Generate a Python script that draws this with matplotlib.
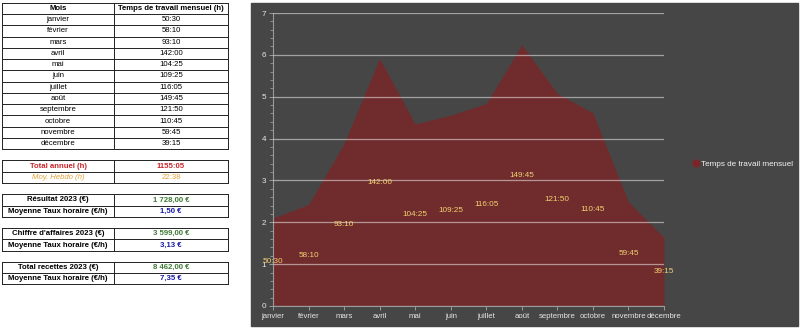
import numpy as np
import matplotlib.pyplot as plt
from matplotlib.patches import Rectangle
from matplotlib.lines import Line2D
from matplotlib.ticker import MultipleLocator

plt.rcParams['font.family'] = ['Liberation Sans', 'DejaVu Sans']

mois = ['janvier', 'février', 'mars', 'avril', 'mai', 'juin', 'juillet',
        'août', 'septembre', 'octobre', 'novembre', 'décembre']
temps = ['50:30', '58:10', '93:10', '142:00', '104:25', '109:25', '116:05',
         '149:45', '121:50', '110:45', '59:45', '39:15']

total_annuel = '1155:05'
moy_hebdo = '22:38'
blocs = [
    ('Résultat 2023 (€)', '1 728,00 €', '1,50 €'),
    ("Chiffre d'affaires 2023 (€)", '3 599,00 €', '3,13 €'),
    ('Total recettes 2023 (€)', '8 462,00 €', '7,35 €'),
]


def en_heures(hhmm):
    h, m = hhmm.split(':')
    return int(h) + int(m) / 60


# durée exprimée en jours sur le graphique
jours = np.array([en_heures(t) for t in temps]) / 24

W, H = 800, 330
fig = plt.figure(figsize=(W / 100, H / 100), dpi=100)

# calque de fond en pixels pour le tableau et le panneau sombre
bg = fig.add_axes([0, 0, 1, 1])
bg.set_xlim(0, W)
bg.set_ylim(H, 0)
bg.axis('off')

bg.add_patch(Rectangle((251, 3), 547, 323, color='#464646', zorder=0))

x0, x1, x2 = 1.7, 114.3, 227.7
top = 2.7
rh = 11.27
fs = 5.6
fs_g = 5.9
c1 = (x0 + x1) / 2
c2 = (x1 + x2) / 2


def cadre(r0, n):
    y_a = top + r0 * rh
    y_b = top + (r0 + n) * rh
    for k in range(n + 1):
        y = top + (r0 + k) * rh
        bg.plot([x0, x2], [y, y], color='#222222', lw=0.7)
    for x in (x0, x1, x2):
        bg.plot([x, x], [y_a, y_b], color='#222222', lw=0.7)


def cellule(r, x, txt, **kw):
    bg.text(x, top + (r + 0.5) * rh, txt, ha='center', va='center',
            fontsize=fs, **kw)


cadre(0, 13)
cellule(0, c1, 'Mois', fontweight='bold')
cellule(0, c2, 'Temps de travail mensuel (h)', fontweight='bold')
for i, (m, t) in enumerate(zip(mois, temps)):
    cellule(i + 1, c1, m)
    cellule(i + 1, c2, t)

cadre(14, 2)
cellule(14, c1, 'Total annuel (h)', fontweight='bold', color='#c8262b')
cellule(14, c2, total_annuel, fontweight='bold', color='#c8262b')
cellule(15, c1, 'Moy. Hebdo (h)', style='italic', color='#e3a23a')
cellule(15, c2, moy_hebdo, color='#e3a23a')

r = 17
for libelle, montant, taux in blocs:
    cadre(r, 2)
    cellule(r, c1, libelle, fontweight='bold')
    cellule(r, c2, montant, fontweight='bold', color='#3f7a35')
    cellule(r + 1, c1, 'Moyenne Taux horaire (€/h)', fontweight='bold')
    cellule(r + 1, c2, taux, fontweight='bold', color='#1a1aa8')
    r += 3

# graphique en aires
ax = fig.add_axes([273 / W, 1 - 306 / H, (664 - 273) / W, (306 - 13) / H])
ax.patch.set_visible(False)
x = np.arange(len(mois))
couleur = '#702c2d'
ax.fill_between(x, jours, color=couleur, lw=0)
for xi, v, t in zip(x, jours, temps):
    ax.text(xi, v / 2, t, ha='center', va='center', fontsize=fs_g,
            color='#f2d070', zorder=4)

ax.set_xlim(0, len(mois) - 1)
ax.set_ylim(0, 7)
ax.set_xticks(x)
ax.set_xticklabels(mois, fontsize=5.6)
ax.yaxis.set_major_locator(MultipleLocator(1))
ax.yaxis.set_minor_locator(MultipleLocator(0.2))
ax.set_axisbelow(False)
ax.yaxis.grid(True, color='white', alpha=0.5, lw=0.9)
for s in ('top', 'right'):
    ax.spines[s].set_visible(False)
for s in ('left', 'bottom'):
    ax.spines[s].set_color('#9a9a9a')
    ax.spines[s].set_linewidth(0.8)
ax.tick_params(axis='both', which='major', colors='#9a9a9a', length=3,
               width=0.7, labelcolor='#e6e6e6', pad=2)
ax.tick_params(axis='y', labelsize=fs_g)
ax.tick_params(axis='y', which='minor', colors='#9a9a9a', length=2, width=0.6)

poignee = Line2D([], [], marker='o', ls='none', color='#7a2628', markersize=5)
fig.legend([poignee], ['Temps de travail mensuel'], loc='center left',
           bbox_to_anchor=(692 / W, 1 - 164 / H), frameon=False,
           fontsize=fs_g, labelcolor='#f2f2f2', handletextpad=0.1,
           borderaxespad=0, borderpad=0, handlelength=1.0)

fig.savefig('out.png', dpi=100)
